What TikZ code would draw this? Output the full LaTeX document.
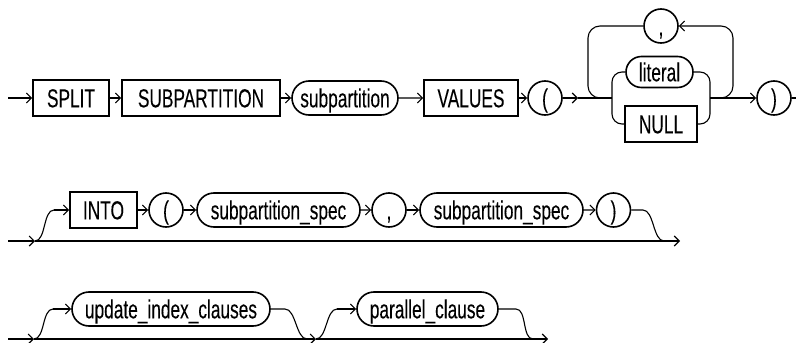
\documentclass[tikz,border=0pt]{standalone}
\usepackage{fontspec}
\setmainfont{Liberation Sans}[FakeStretch=0.665,FakeBold=0.15]
\usetikzlibrary{shapes.misc,arrows.meta}

\tikzset{
  kw/.style={draw, rectangle, line width=1.6pt, minimum height=36pt, inner sep=0pt,
    font=\fontsize{26}{29}\selectfont, text height=18.6pt, text depth=0pt},
  nt/.style={kw, rounded rectangle, minimum height=34pt},
  sym/.style={kw, circle, minimum size=34pt},
  rail/.style={line width=1.1pt},
  tip/.style={rail, -{Straight Barb[length=5pt,width=10pt]}},
}

\begin{document}
\begin{tikzpicture}[x=1pt,y=-1pt]
\useasboundingbox (0,0) rectangle (796,343);

% Row 1: SPLIT SUBPARTITION ... VALUES ( ... )
\coordinate (s1) at (8,98);
\node[kw, minimum width=76pt] (split) at (71,98) {SPLIT};
\node[kw, minimum width=158pt] (subp) at (201,98) {SUBPARTITION};
\node[nt, minimum width=106pt] (subpn) at (345,98) {subpartition};
\node[kw, minimum width=94pt] (values) at (471,98) {VALUES};
\node[sym] (lp1) at (545,98) {(};
\coordinate (a1) at (578,98);
\coordinate (j1) at (612,98);
\node[nt, minimum width=67pt, minimum height=31pt] (lit) at (659.5,72) {literal};
\node[kw, minimum width=72pt] (null) at (661,124) {NULL};
\coordinate (j2) at (710,98);
\node[sym] (rp1) at (774,98) {)};
\coordinate (e1) at (796,98);

\draw[tip] (s1) -- (split);
\draw[tip] (split) -- (subp);
\draw[tip] (subp) -- (subpn);
\draw[tip] (subpn) -- (values);
\draw[tip] (values) -- (lp1);
\draw[tip] (lp1) -- (a1);
\draw[rail] (a1) -- (j1);
\draw[rail, rounded corners=10pt] (lit.west) -| (j1) |- (null.west);
\draw[rail, rounded corners=10pt] (lit.east) -| (j2) |- (null.east);
\draw[tip] (j2) -- (rp1);
\draw[rail] (rp1) -- (e1);

% Repeat loop with comma
\node[sym] (comma1) at (661,26) {,};
\coordinate (l1) at (721,98);
\coordinate (lr) at (733,26);
\coordinate (ll) at (588,26);
\coordinate (lb) at (600,98);
\draw[tip, rounded corners=12pt] (l1) -| (lr) -- (comma1);
\draw[rail, rounded corners=12pt] (comma1) -- (ll) |- (lb);

% Row 2: optional INTO ( spec , spec )
\coordinate (s2) at (8,241);
\coordinate (f2) at (35,241);
\coordinate (f2t) at (54,210);
\node[kw, minimum width=67pt] (into) at (103.5,210) {INTO};
\node[sym] (lp2) at (166,210) {(};
\node[nt, minimum width=163pt] (spec1) at (278.5,210) {subpartition\_spec};
\node[sym] (comma2) at (389,210) {,};
\node[nt, minimum width=163pt] (spec2) at (501.5,210) {subpartition\_spec};
\node[sym] (rp2) at (613.5,210) {)};
\coordinate (g2) at (643,210);
\coordinate (g2b) at (664,241);
\coordinate (e2) at (680,241);

\draw[tip] (s2) -- (f2);
\draw[tip] (f2) -- (e2);
\draw[rail] (f2) .. controls +(11,0) and +(-11,0) .. (f2t);
\draw[tip] (f2t) -- (into);
\draw[tip] (into) -- (lp2);
\draw[tip] (lp2) -- (spec1);
\draw[tip] (spec1) -- (comma2);
\draw[tip] (comma2) -- (spec2);
\draw[tip] (spec2) -- (rp2);
\draw[rail] (rp2) -- (g2) .. controls +(11,0) and +(-11,0) .. (g2b);

% Row 3: optional clauses
\coordinate (s3) at (8,339);
\coordinate (f3a) at (34,339);
\coordinate (f3at) at (53,309);
\node[nt, minimum width=198pt] (upd) at (171,309) {update\_index\_clauses};
\coordinate (g3a) at (285,309);
\coordinate (g3ab) at (307,339);
\coordinate (f3b) at (316,339);
\coordinate (f3bt) at (337,309);
\node[nt, minimum width=141pt] (par) at (427.5,309) {parallel\_clause};
\coordinate (g3b) at (516,309);
\coordinate (g3bb) at (533,339);
\coordinate (e3) at (548,339);

\draw[tip] (s3) -- (f3a);
\draw[tip] (f3a) -- (f3b);
\draw[tip] (f3b) -- (e3);
\draw[rail] (f3a) .. controls +(11,0) and +(-11,0) .. (f3at);
\draw[tip] (f3at) -- (upd);
\draw[rail] (upd) -- (g3a) .. controls +(11,0) and +(-11,0) .. (g3ab);
\draw[rail] (f3b) .. controls +(11,0) and +(-11,0) .. (f3bt);
\draw[tip] (f3bt) -- (par);
\draw[rail] (par) -- (g3b) .. controls +(11,0) and +(-11,0) .. (g3bb);
\end{tikzpicture}
\end{document}
